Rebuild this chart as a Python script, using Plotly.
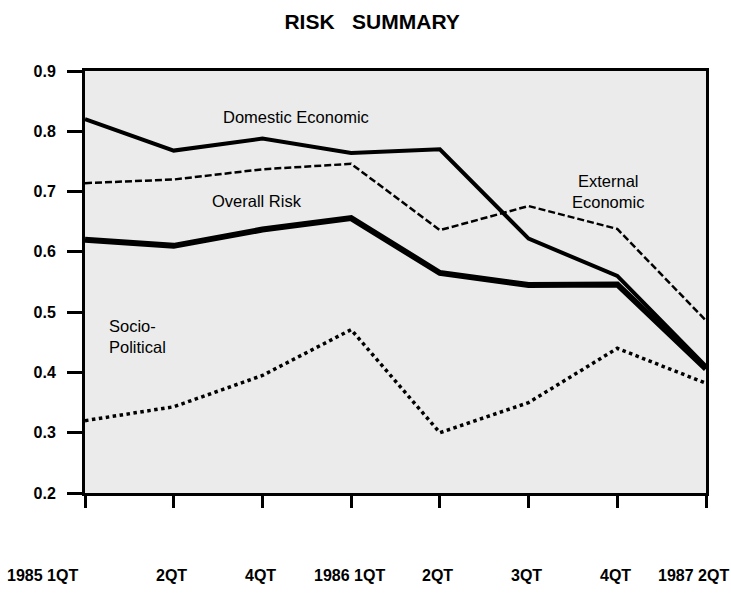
import plotly.graph_objects as go

categories = ["1985 1QT", "2QT", "4QT", "1986 1QT", "2QT", "3QT", "4QT", "1987 2QT"]
domestic_economic = [0.820, 0.768, 0.788, 0.764, 0.770, 0.622, 0.560, 0.410]
external_economic = [0.714, 0.720, 0.737, 0.746, 0.636, 0.676, 0.638, 0.486]
overall_risk = [0.620, 0.610, 0.637, 0.656, 0.565, 0.545, 0.546, 0.406]
socio_political = [0.320, 0.343, 0.395, 0.471, 0.300, 0.350, 0.440, 0.382]
y_ticks = [0.2, 0.3, 0.4, 0.5, 0.6, 0.7, 0.8, 0.9]

xs = list(range(len(categories)))
FONT = "Liberation Sans, Arial, sans-serif"

fig = go.Figure()
fig.add_trace(go.Scatter(x=xs, y=socio_political, mode="lines", name="Socio-Political",
                         line=dict(color="black", width=3.5, dash="3.5px,3.5px")))
fig.add_trace(go.Scatter(x=xs, y=external_economic, mode="lines", name="External Economic",
                         line=dict(color="black", width=2.5, dash="7px,3px")))
fig.add_trace(go.Scatter(x=xs, y=overall_risk, mode="lines", name="Overall Risk",
                         line=dict(color="black", width=6)))
fig.add_trace(go.Scatter(x=xs, y=domestic_economic, mode="lines", name="Domestic Economic",
                         line=dict(color="black", width=4)))

label_font = dict(family=FONT, size=16.5, color="black")
annotations = [
    dict(x=2.38, y=0.824, xref="x", yref="y", text="Domestic Economic", showarrow=False,
         font=label_font, xanchor="center", yanchor="middle"),
    dict(x=1.94, y=0.684, xref="x", yref="y", text="Overall Risk", showarrow=False,
         font=label_font, xanchor="center", yanchor="middle"),
    dict(x=5.89, y=0.700, xref="x", yref="y", text="External<br>Economic", showarrow=False,
         font=label_font, xanchor="center", yanchor="middle", align="center"),
    dict(x=0.25, y=0.460, xref="x", yref="y", text="Socio-<br>Political", showarrow=False,
         font=label_font, xanchor="left", yanchor="middle", align="left"),
]

# x tick labels placed well below the axis
last = len(categories) - 1
for i, lab in enumerate(categories):
    if i == 0:
        anchor, shift = "right", -5
    elif i == last:
        anchor, shift = "right", 25
    else:
        anchor, shift = "center", -2
    annotations.append(dict(x=i, y=0, xref="x", yref="paper", text=lab, showarrow=False,
                            xanchor=anchor, yanchor="top", xshift=shift, yshift=-72,
                            font=dict(family=FONT, size=16, color="black", weight="bold")))

fig.update_layout(
    width=731, height=605,
    margin=dict(l=85, r=25, t=71, b=112),
    paper_bgcolor="white",
    plot_bgcolor="#ebebeb",
    showlegend=False,
    title=dict(text="RISK   SUMMARY", x=0.509, xanchor="center", y=0.976, yanchor="top",
               font=dict(family=FONT, size=21, color="black", weight="bold")),
    annotations=annotations,
    xaxis=dict(range=[0, last], tickvals=xs, ticktext=[""] * len(xs),
               showgrid=False, zeroline=False, showline=True, mirror=True,
               linecolor="black", linewidth=3, ticks="outside", ticklen=12,
               tickwidth=3, tickcolor="black"),
    yaxis=dict(range=[0.2, 0.9], tickvals=y_ticks, ticktext=[f"{v:.1f}" for v in y_ticks],
               showgrid=False, zeroline=False, showline=True, mirror=True,
               linecolor="black", linewidth=3, ticks="outside", ticklen=15,
               tickwidth=3, tickcolor="black", ticklabelstandoff=8,
               tickfont=dict(family=FONT, size=16, color="black", weight="bold")),
)

fig.write_html("out.html", config={"displayModeBar": False},
               post_script="document.body.style.margin='0';")
